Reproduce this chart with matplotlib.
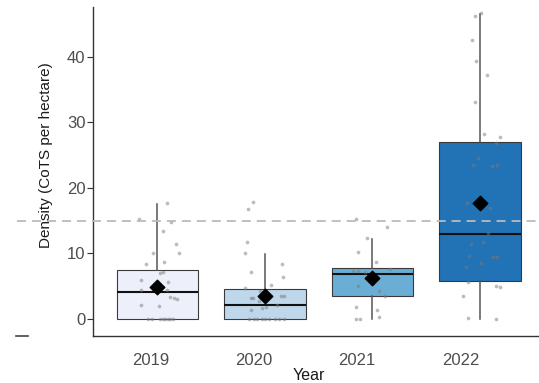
import matplotlib
matplotlib.use("Agg")
import matplotlib.pyplot as plt
import matplotlib.transforms as mtransforms

plt.rcParams['font.family'] = ['Liberation Sans', 'DejaVu Sans']

# ---- data -------------------------------------------------------------
years = ["2019", "2020", "2021", "2022"]

# box summaries (CoTS per hectare)
q1 = [0.0, 0.0, 3.5, 5.8]
medians = [4.05, 2.2, 6.85, 12.9]
q3 = [7.45, 4.6, 7.7, 27.0]
whisker_lo = [0.0, 0.0, 0.0, 0.0]
whisker_hi = [17.6, 9.9, 12.2, 46.6]
means = [4.9, 3.55, 6.3, 17.7]

threshold = 15.0

# individual site densities and their horizontal jitter
dens_2019 = [17.7, 15.2, 14.8, 13.4, 11.5, 10.0, 10.1, 8.4, 8.7, 7.0, 7.1, 6.0,
             5.7, 4.4, 4.4, 3.4, 3.2, 3.1, 2.1, 2.0, 0, 0, 0, 0, 0, 0, 0, 0]
jit_2019 = [0.085, -0.17, 0.13, 0.05, 0.17, 0.20, -0.04, -0.11, 0.06, 0.02, 0.05, -0.15,
            0.10, -0.15, 0.085, 0.115, 0.15, 0.18, -0.15, 0.015,
            -0.09, -0.05, 0.02, 0.05, 0.07, 0.10, 0.115, 0.14]

dens_2020 = [17.8, 16.8, 11.7, 10.0, 8.4, 7.1, 6.4, 4.8, 5.2, 4.3, 3.2, 3.2, 3.5,
             3.5, 2.1, 1.4, 1.6, 1.8, 2.7, 0, 0, 0, 0, 0, 0, 0, 0, 0]
jit_2020 = [-0.11, -0.16, -0.17, -0.19, 0.16, -0.13, 0.17, -0.19, 0.06, -0.05, -0.13,
            -0.11, 0.15, 0.18, 0.11, -0.13, -0.03, 0.01, -0.06,
            -0.15, -0.10, -0.07, -0.03, 0.0, 0.04, 0.09, 0.13, 0.18]

dens_2021 = [15.3, 14.0, 12.4, 10.2, 8.7, 7.6, 7.3, 7.3, 7.2, 5.0, 4.2, 3.5, 1.8,
             1.3, 0, 0, 0.3]
jit_2021 = [-0.15, 0.14, -0.05, -0.13, 0.03, 0.16, -0.18, -0.13, -0.07, -0.13, 0.06,
            0.12, -0.15, 0.04, -0.15, -0.12, 0.06]

dens_2022 = [46.7, 46.3, 42.5, 39.3, 37.3, 33.1, 28.2, 27.7, 26.9, 24.6, 23.5, 23.4,
             23.5, 17.7, 16.9, 13.1, 11.5, 11.7, 9.6, 9.4, 9.4, 7.9, 8.5, 5.7, 5.0,
             4.9, 3.5, 0.1, 0]
jit_2022 = [0.01, -0.05, -0.07, -0.04, 0.07, -0.05, 0.04, 0.19, 0.15, -0.02, -0.06,
            0.11, 0.155, -0.12, 0.09, 0.08, -0.08, 0.025, -0.10, 0.12, 0.16, -0.13,
            0.01, -0.11, 0.15, 0.19, -0.16, -0.11, 0.15]

densities = [dens_2019, dens_2020, dens_2021, dens_2022]
jitters = [jit_2019, jit_2020, jit_2021, jit_2022]

box_colors = ["#edf0fa", "#bfd7eb", "#6aaed6", "#2272b6"]

# ---- figure -----------------------------------------------------------
fig = plt.figure(figsize=(5.39, 3.83), dpi=100)
ax = fig.add_axes([93 / 539, 47 / 383, 446 / 539, 329 / 383])

positions = list(range(1, len(years) + 1))
stats = [dict(med=m, q1=a, q3=b, whislo=lo, whishi=hi, fliers=[], label=y)
         for y, m, a, b, lo, hi in zip(years, medians, q1, q3, whisker_lo, whisker_hi)]

bp = ax.bxp(stats, positions=positions, widths=0.76, patch_artist=True,
            showcaps=False, showfliers=False,
            boxprops=dict(edgecolor="#3a3a3a", linewidth=0.8),
            whiskerprops=dict(color="#555555", linewidth=1.1),
            medianprops=dict(color="#111111", linewidth=1.5),
            zorder=2)
for patch, c in zip(bp["boxes"], box_colors):
    patch.set_facecolor(c)

# jittered site observations
for pos, vals, jit in zip(positions, densities, jitters):
    ax.scatter([pos + j for j in jit], vals, s=7, color="#7a7a7a", alpha=0.5,
               linewidths=0, zorder=3)

# group means
ax.scatter(positions, means, marker="D", s=55, color="black", zorder=4)

# outbreak threshold, running past the left edge of the panel
trans = ax.get_yaxis_transform()
ax.plot([-0.17, 1.0], [threshold, threshold], transform=trans, clip_on=False,
        color="#bbbbbb", linewidth=1.3, dashes=(5, 3.3), zorder=5)
ax.plot([-0.172, -0.145], [0, 0], transform=ax.transAxes, clip_on=False,
        color="#444444", linewidth=1.2)

ax.set_xlim(0.4, 4.55)
ax.set_ylim(-2.6, 47.6)
ax.set_yticks([0, 10, 20, 30, 40])
ax.set_xticks(positions)
ax.set_xticklabels(years)

for s in ["top", "right"]:
    ax.spines[s].set_visible(False)
for s in ["left", "bottom"]:
    ax.spines[s].set_color("#333333")
    ax.spines[s].set_linewidth(1.0)

ax.tick_params(axis="y", length=4, width=0.8, color="#333333", pad=1.5,
               labelsize=12, labelcolor="#4d4d4d")
ax.tick_params(axis="x", length=0, pad=12, labelsize=12, labelcolor="#4d4d4d")

# nudge the year labels slightly to the left
for i, lab in enumerate(ax.get_xticklabels()):
    shift = -(5 + 3 * i) / 72.0
    lab.set_transform(lab.get_transform() +
                      mtransforms.ScaledTranslation(shift, 0, fig.dpi_scale_trans))

fig.text(46 / 539, 1 - 155 / 383, "Density (CoTS per hectare)", rotation=90,
         ha="center", va="center", fontsize=11, color="#1a1a1a")
fig.text(309 / 539, 1 - 375 / 383, "Year", ha="center", va="center",
         fontsize=11.5, color="#1a1a1a")

fig.savefig("out.png", dpi=100)
